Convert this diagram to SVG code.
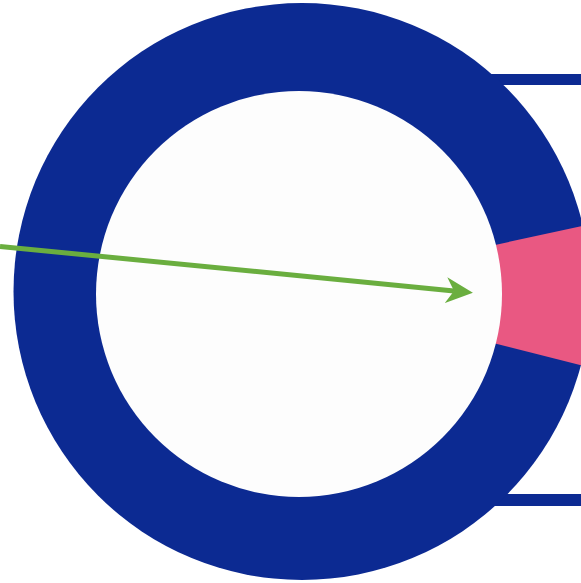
<svg xmlns="http://www.w3.org/2000/svg" width="581" height="583" viewBox="0 0 581 583">
  <style>
    .blue { fill: #0c2a92; }
    .pink { fill: #e95882; }
    .hole { fill: #fdfdfd; }
    .conn { stroke: #6aae3f; stroke-width: 5; fill: none; }
  </style>
  <defs>
    <clipPath id="outerClip">
      <circle cx="302" cy="291.5" r="288.5"/>
    </clipPath>
    <marker id="arrow" markerUnits="userSpaceOnUse" viewBox="0 0 27 26" markerWidth="27" markerHeight="26" refX="8" refY="13" orient="auto">
      <path d="M0,0 L27,13 L0,26 L8,13 Z" fill="#6aae3f"/>
    </marker>
  </defs>
  <rect width="581" height="583" fill="#ffffff"/>
  <g id="bars">
    <rect class="blue" x="488" y="74" width="93" height="11"/>
    <rect class="blue" x="488" y="494" width="93" height="12"/>
  </g>
  <g id="ring">
    <circle class="blue" cx="302" cy="291.5" r="288.5"/>
    <polygon class="pink" clip-path="url(#outerClip)" points="298,288 600,222 600,370 298,294"/>
    <circle class="hole" cx="299" cy="294" r="203"/>
  </g>
  <g id="connectors">
    <line class="conn" x1="0" y1="246.5" x2="454" y2="290.9" marker-end="url(#arrow)"/>
  </g>
</svg>
